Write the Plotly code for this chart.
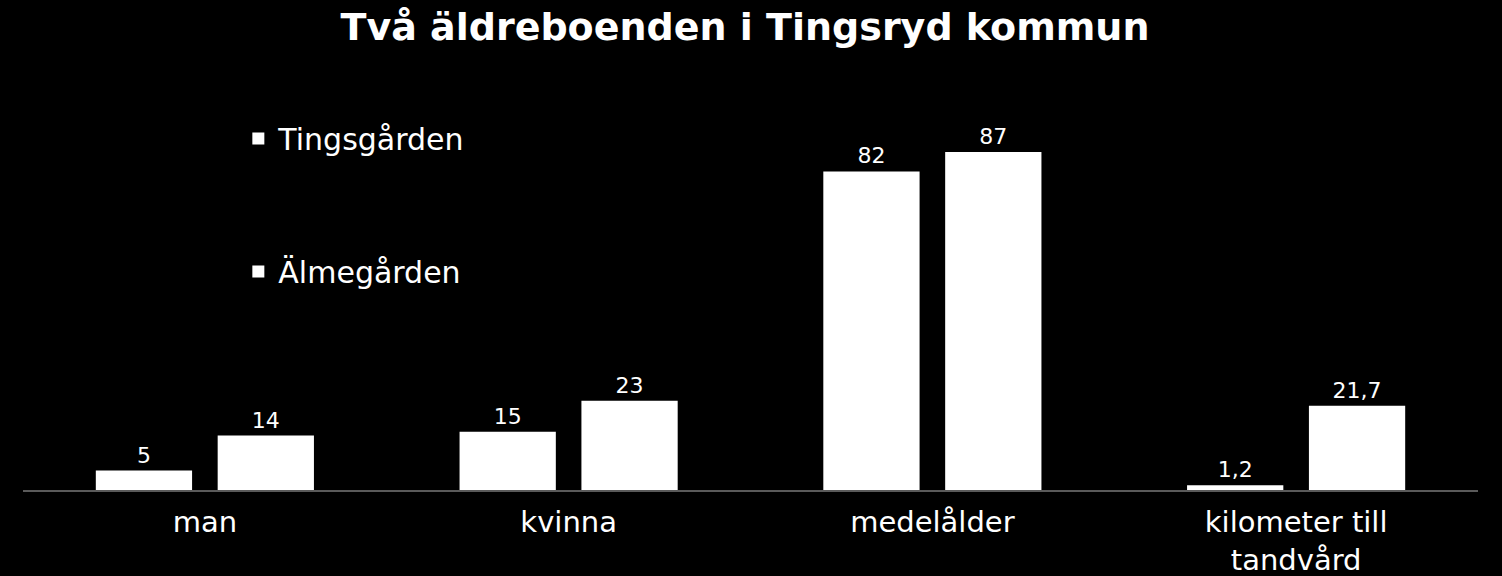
import plotly.graph_objects as go

categories = ["man", "kvinna", "medelålder", "kilometer till<br>tandvård"]
tingsgarden = [5, 15, 82, 1.2]
almegarden = [14, 23, 87, 21.7]
series_names = ["Tingsgården", "Älmegården"]


def fmt(v):
    return f"{v:g}".replace(".", ",")


fig = go.Figure()
for name, vals, grp in [(series_names[0], tingsgarden, "a"), (series_names[1], almegarden, "b")]:
    fig.add_trace(go.Bar(
        x=categories, y=vals, name=name,
        marker=dict(color="white", line=dict(width=0)),
        text=[fmt(v) for v in vals], textposition="outside",
        textfont=dict(color="white", size=22, family="DejaVu Sans"),
        cliponaxis=False, legendgroup=grp,
    ))

fig.update_layout(
    width=1502, height=576,
    paper_bgcolor="black", plot_bgcolor="black",
    margin=dict(l=23, r=24, t=60, b=86),
    barmode="group", bargap=0.33, bargroupgap=0.21,
    title=dict(text="<b>Två äldreboenden i Tingsryd kommun</b>", x=0.496, xanchor="center",
               y=0.953, yanchor="middle",
               font=dict(family="DejaVu Sans", size=38, color="white")),
    legend=dict(x=0.148, y=0.878, xanchor="left", yanchor="top",
                font=dict(family="DejaVu Sans", size=30, color="white"),
                bgcolor="rgba(0,0,0,0)", tracegroupgap=91),
    showlegend=True,
    xaxis=dict(showline=True, linecolor="#5a5a5a", linewidth=2, ticks="",
               tickfont=dict(family="DejaVu Sans", size=29, color="white"),
               ticklabelstandoff=5, showgrid=False, automargin=False),
    yaxis=dict(range=[0, 110.7], visible=False, showgrid=False, zeroline=False,
               automargin=False),
)

fig.write_html("out.html", config={"displayModeBar": False},
               post_script="document.body.style.margin='0';document.body.style.background='black';")
